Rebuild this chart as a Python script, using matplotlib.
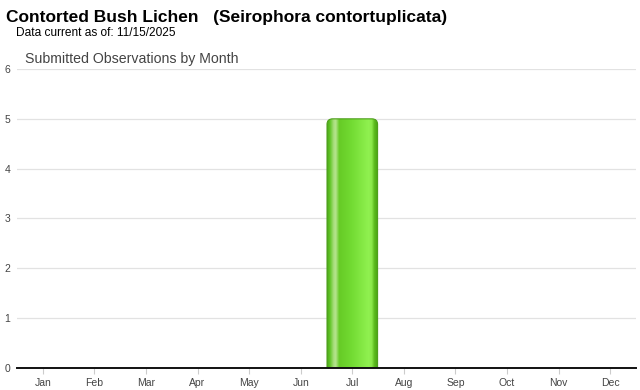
import numpy as np
import matplotlib
matplotlib.use("Agg")
import matplotlib.pyplot as plt
from matplotlib.patches import FancyBboxPatch
from matplotlib.colors import LinearSegmentedColormap

months = ["Jan", "Feb", "Mar", "Apr", "May", "Jun", "Jul", "Aug", "Sep", "Oct", "Nov", "Dec"]
counts = [0, 0, 0, 0, 0, 0, 5, 0, 0, 0, 0, 0]
yticks = [0, 1, 2, 3, 4, 5, 6]

plt.rcParams['font.family'] = ['Liberation Sans', 'DejaVu Sans']

W, H = 640, 390
fig = plt.figure(figsize=(W / 100, H / 100), dpi=100)
L, R, T, B = 17, 636, 69, 368
ax = fig.add_axes([L / W, (H - B) / H, (R - L) / W, (B - T) / H])

x = np.arange(len(months))
ax.set_xlim(-0.5, len(months) - 0.5)
ax.set_ylim(0, 6)

for s in ax.spines.values():
    s.set_visible(False)
ax.set_yticks(yticks)
ax.set_yticklabels([str(v) for v in yticks], fontsize=7.5, color="#444444")
ax.tick_params(axis='y', length=0, pad=5)
ax.set_xticks(x)
ax.set_xticklabels(months, fontsize=7.5, color="#444444")
ax.tick_params(axis='x', length=4, color="#cccccc", pad=3)
for v in yticks[1:]:
    ax.axhline(v, color="#e2e2e2", lw=0.9, zorder=0)
ax.axhline(0, color="#111111", lw=1.4, zorder=5, clip_on=False)

cmap = LinearSegmentedColormap.from_list("barg", [
    (0.00, "#4aa818"),
    (0.06, "#62c628"),
    (0.13, "#a8de7c"),
    (0.17, "#b6e48e"),
    (0.24, "#66cb26"),
    (0.50, "#74dc34"),
    (0.82, "#90f150"),
    (0.88, "#8ae84a"),
    (0.93, "#5cbc1e"),
    (1.00, "#48a012"),
])
grad = np.linspace(0, 1, 256).reshape(1, -1)

bw = 0.98
for xi, c in zip(x, counts):
    if c <= 0:
        continue
    x0 = xi - bw / 2
    patch = FancyBboxPatch((x0, -0.3), bw, c + 0.3,
                           boxstyle="round,pad=0,rounding_size=0.11",
                           mutation_aspect=1.0,
                           facecolor="none", edgecolor="#4e9e1c", lw=0.8, zorder=3)
    ax.add_patch(patch)
    im = ax.imshow(grad, cmap=cmap, extent=(x0, x0 + bw, 0, c), aspect='auto',
                   zorder=2, interpolation='bilinear')
    im.set_clip_path(patch)
ax.set_xlim(-0.5, len(months) - 0.5)
ax.set_ylim(0, 6)

fig.text(6 / W, 1 - 22 / H, "Contorted Bush Lichen   (Seirophora contortuplicata)",
         fontsize=12.5, fontweight='bold', color="#000000", va='baseline', ha='left')
fig.text(16 / W, 1 - 36 / H, "Data current as of: 11/15/2025",
         fontsize=8.6, color="#000000", va='baseline', ha='left')
fig.text(25 / W, 1 - 63 / H, "Submitted Observations by Month",
         fontsize=10.2, color="#444444", va='baseline', ha='left')

fig.savefig("out.png", dpi=100)
